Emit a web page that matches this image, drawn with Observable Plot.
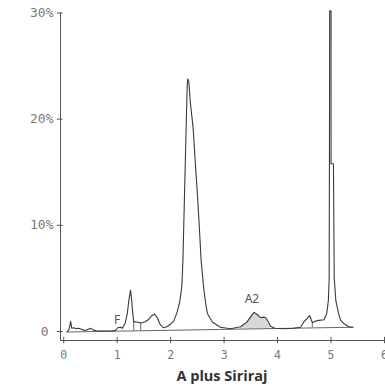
<!DOCTYPE html>
<html>
<head>
<meta charset="utf-8">
<script src="https://cdn.jsdelivr.net/npm/d3@7"></script>
<script src="https://cdn.jsdelivr.net/npm/@observablehq/plot@0.6"></script>
<style>
  html, body { margin: 0; padding: 0; background: #fff; }
  svg { display: block; }
</style>
</head>
<body>
<div id="chart"></div>
<script>
// Retention time (min) and percent signal of the trace
const traceX = [0.07,0.10,0.13,0.15,0.19,0.23,0.28,0.33,0.40,0.46,0.50,0.55,0.62,0.75,0.90,0.97,1.01,1.06,1.10,1.15,1.19,1.22,1.25,1.27,1.29,1.31,1.36,1.44,1.52,1.58,1.64,1.70,1.75,1.80,1.86,1.93,2.00,2.06,2.12,2.17,2.21,2.23,2.26,2.29,2.31,2.32,2.34,2.37,2.42,2.46,2.50,2.54,2.57,2.62,2.66,2.69,2.78,2.93,3.12,3.31,3.43,3.50,3.56,3.62,3.68,3.74,3.78,3.83,3.87,3.95,4.10,4.30,4.43,4.49,4.55,4.58,4.60,4.63,4.65,4.70,4.77,4.87,4.92,4.95,4.965,4.97,4.975,5.00,5.00,5.045,5.06,5.09,5.14,5.18,5.25,5.33,5.40];
const traceY = [0.0,0.2,0.95,0.3,0.35,0.25,0.3,0.2,0.1,0.2,0.3,0.15,0.05,0.05,0.05,0.1,0.35,0.4,0.3,0.8,1.7,3.0,3.9,3.0,1.8,0.9,0.9,0.8,0.9,1.1,1.45,1.65,1.3,0.7,0.35,0.45,0.7,1.0,1.8,2.8,4.3,6.7,13,19.2,23.2,23.8,23.5,21.5,19.2,16,13,9.5,6.7,4.0,2.5,1.67,0.9,0.4,0.25,0.45,0.9,1.4,1.8,1.6,1.3,1.35,1.3,0.9,0.5,0.3,0.25,0.3,0.4,0.9,1.2,1.4,1.5,1.1,0.85,0.95,1.05,1.1,1.7,2.9,5.0,15.8,30.2,30.2,15.8,15.8,5.0,2.9,1.7,1.04,0.7,0.45,0.4];

// Integration baseline
const baseX = [0.05, 5.42];
const baseY = [-0.05, 0.4];

// Peak drop lines (x positions)
const dropX = [1.31, 1.44, 4.65];

// Axis ticks
const xTicks = [0, 1, 2, 3, 4, 5, 6];
const yTicks = [10, 20, 30];
const yTickLabels = ["10%", "20%", "30%"];
const yZero = [0];
const yZeroLabel = "0";

// Peak labels
const peakNames = ["F", "A2"];
const peakX = [1.0, 3.52];
const peakY = [0.75, 2.64];

const xLabel = "A plus Siriraj";

const X0 = -0.06, XMAX = 6, Y0 = -0.85, YMAX = 30;

const trace = traceX.map((x, i) => ({x, y: traceY[i]}));
const baseAt = x => baseY[0] + (baseY[1] - baseY[0]) * (x - baseX[0]) / (baseX[1] - baseX[0]);
const base = baseX.map((x, i) => ({x, y: baseY[i]}));
const a2 = trace.filter(d => d.x >= 3.31 && d.x <= 3.87).map(d => ({x: d.x, y1: baseAt(d.x), y2: d.y}));
const drops = dropX.map(x => {
  const i = traceX.findIndex(v => v >= x);
  return {x, y1: baseAt(x), y2: traceY[i]};
});

const mono = "DejaVu Sans Mono, monospace";
const tickColor = "#7a7a7a";

const plot = Plot.plot({
  width: 385,
  height: 389,
  marginLeft: 60,
  marginRight: 1,
  marginTop: 12.5,
  marginBottom: 49,
  x: {domain: [X0, XMAX], axis: null},
  y: {domain: [Y0, YMAX], axis: null},
  marks: [
    Plot.areaY(a2, {x: "x", y1: "y1", y2: "y2", fill: "#d8d8d8"}),
    Plot.line(base, {x: "x", y: "y", stroke: "#555", strokeWidth: 0.9}),
    Plot.ruleX(drops, {x: "x", y1: "y1", y2: "y2", stroke: "#555", strokeWidth: 0.9}),
    Plot.line(trace, {x: "x", y: "y", stroke: "#3a3a3a", strokeWidth: 1.1, curve: "linear"}),
    // axes
    Plot.ruleY([Y0], {x1: X0, x2: XMAX, stroke: "#555", strokeWidth: 1}),
    Plot.ruleX([X0], {y1: Y0, y2: YMAX, stroke: "#555", strokeWidth: 1}),
    Plot.ruleX(xTicks, {x: d => d, y1: Y0 - 0.3, y2: Y0 + 0.3, stroke: "#555"}),
    Plot.ruleY(yTicks.concat(yZero), {y: d => d, x1: X0 - 0.06, x2: X0 + 0.05, stroke: "#555"}),
    Plot.text(xTicks, {x: d => d, y: Y0, dy: 15, text: d => String(d), fontFamily: mono, fontSize: 11.5, fill: tickColor}),
    Plot.text(yTicks, {x: X0, y: d => d, dx: -7, textAnchor: "end", text: (d, i) => yTickLabels[i], fontFamily: mono, fontSize: 13, letterSpacing: 1, fill: tickColor}),
    Plot.text(yZero, {x: X0, y: d => d, dx: -12, textAnchor: "end", text: () => yZeroLabel, fontFamily: mono, fontSize: 13, fill: tickColor}),
    Plot.text(peakNames, {x: (d, i) => peakX[i], y: (d, i) => peakY[i], text: d => d, lineAnchor: "bottom", fontFamily: (d) => d === "F" ? "DejaVu Serif, serif" : "DejaVu Sans, sans-serif", fontSize: 12, fill: "#555"}),
    Plot.text([xLabel], {x: 2.96, y: Y0, dy: 36, text: d => d, fontFamily: "Open Sans, sans-serif", fontWeight: 700, fontSize: 14.5, fill: "#333"})
  ]
});
document.getElementById("chart").appendChild(plot);
</script>
</body>
</html>
